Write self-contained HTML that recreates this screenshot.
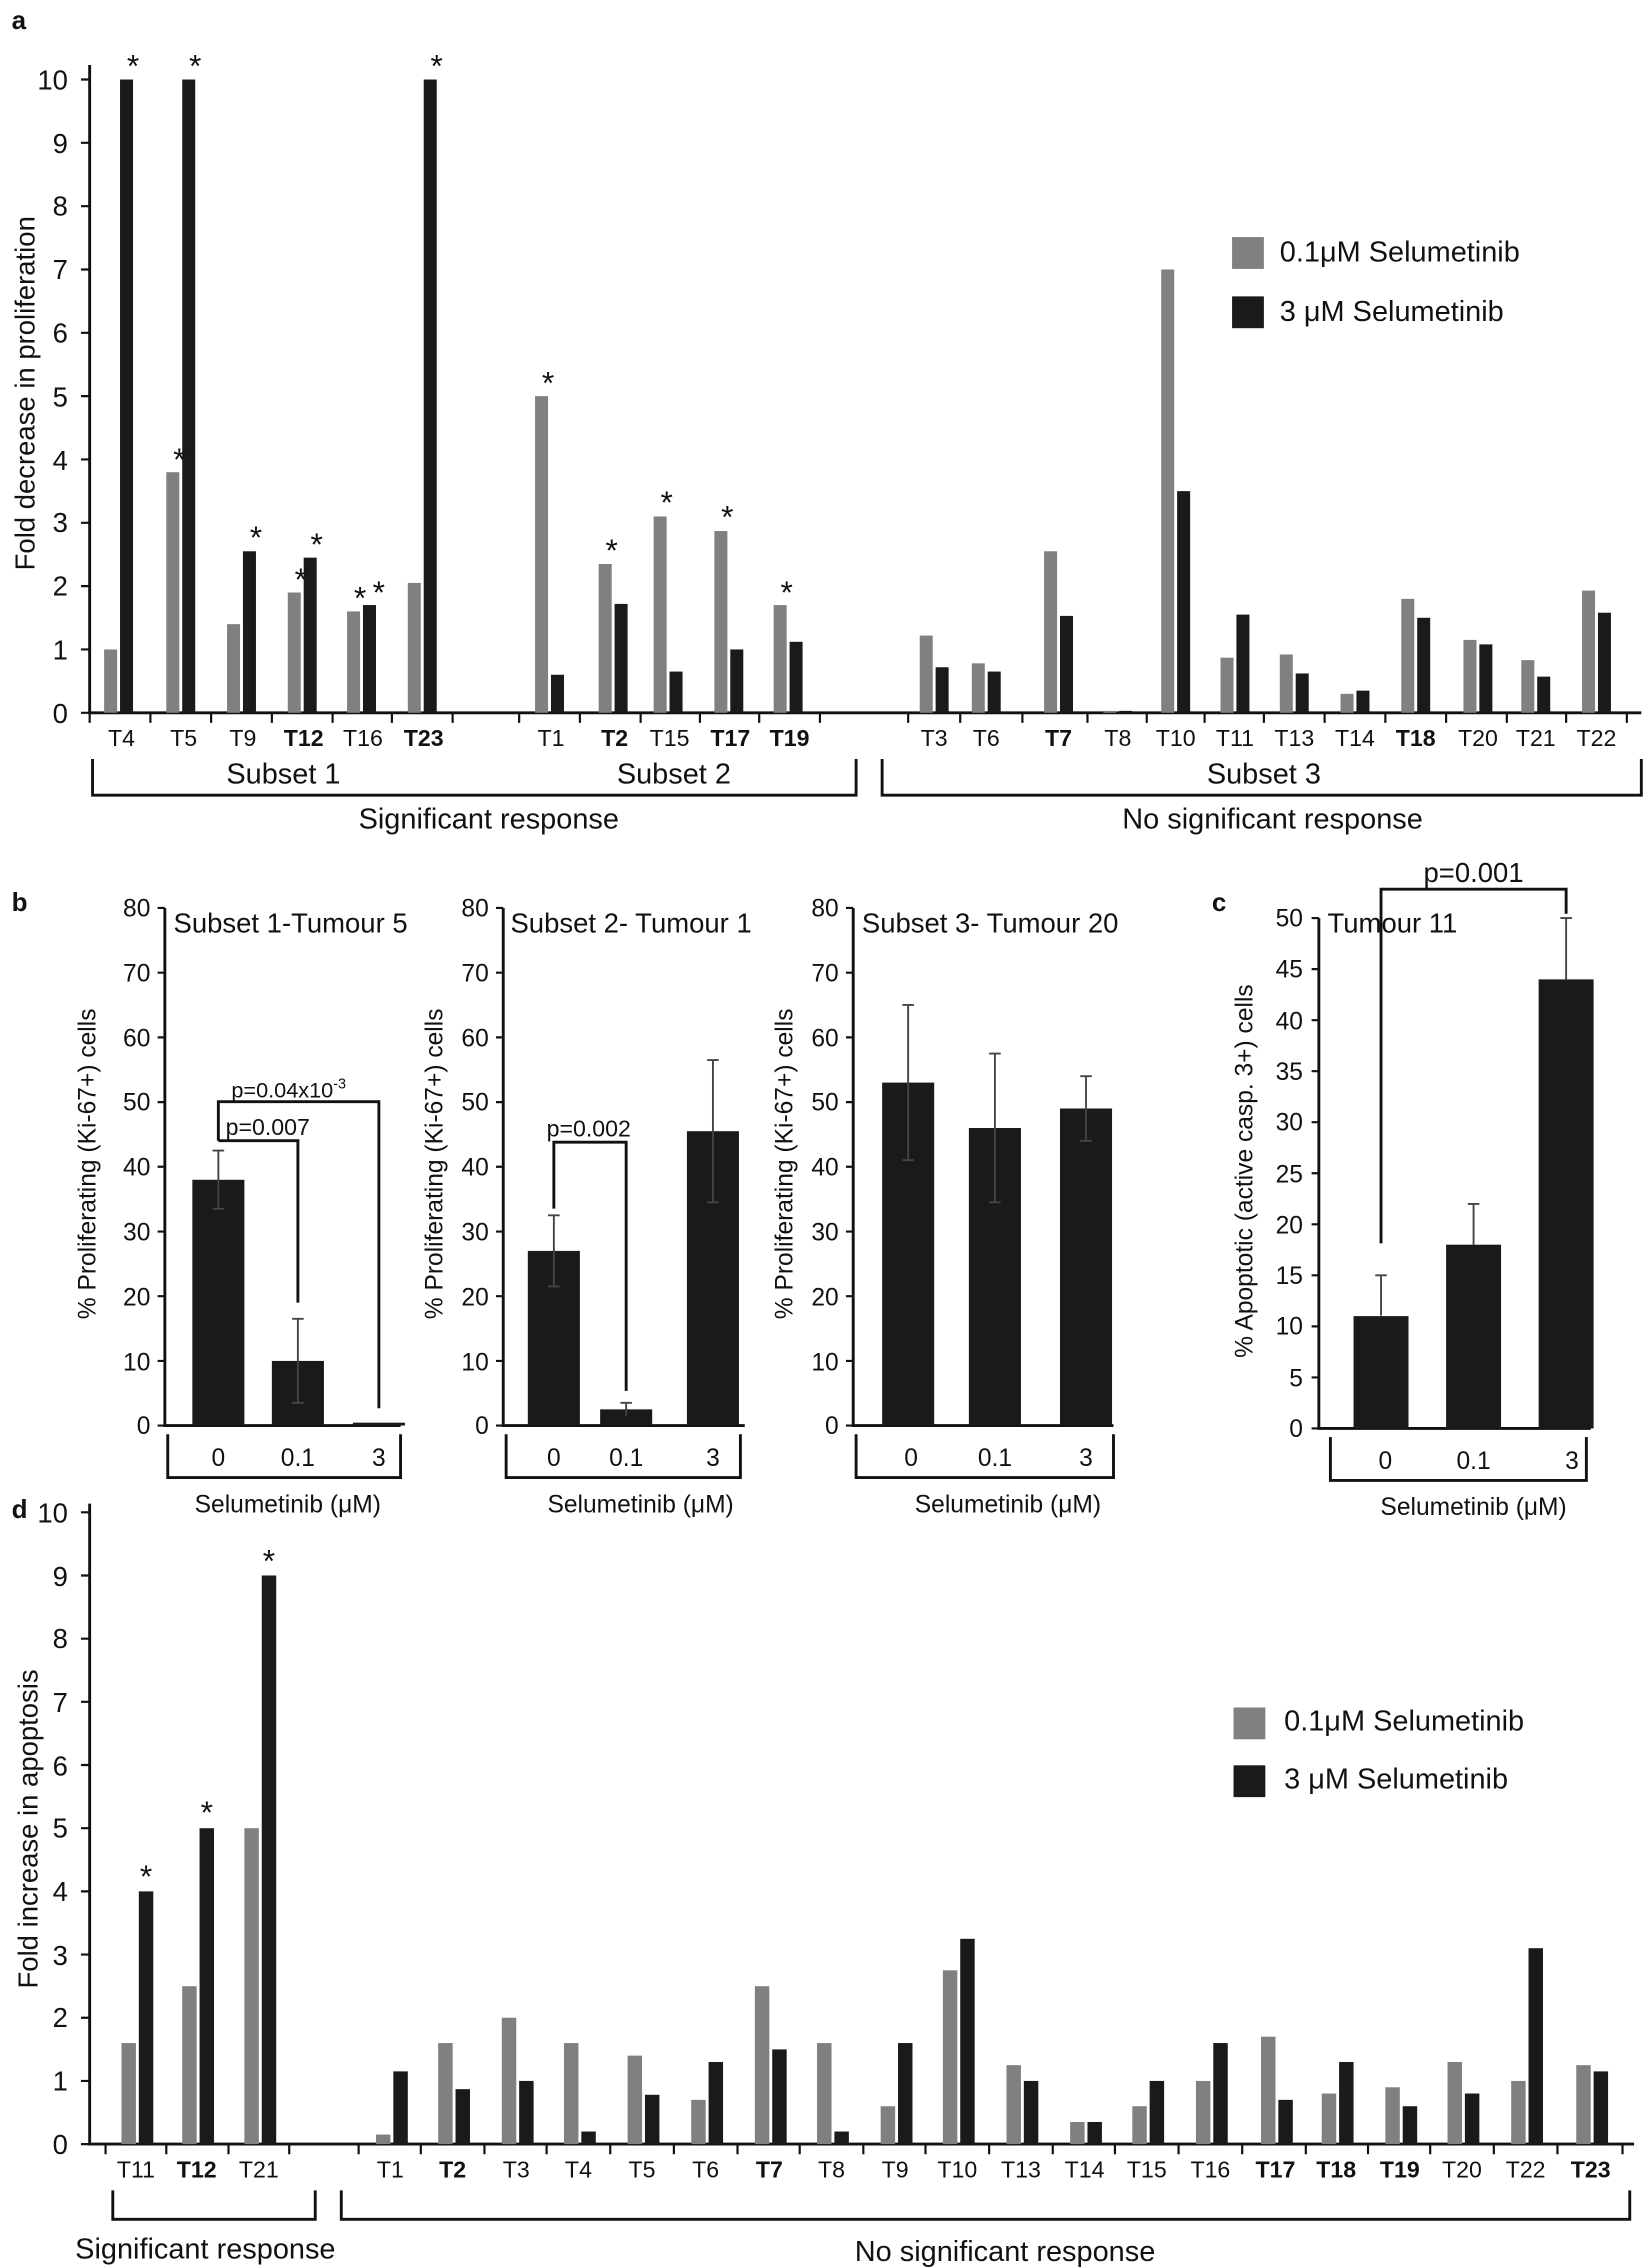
<!DOCTYPE html>
<html><head><meta charset="utf-8"><style>
html,body{margin:0;padding:0;background:#fff;}
svg{display:block;}
text{font-family:"Liberation Sans",Arial,sans-serif;fill:#111;}
.g{fill:#808080}.k{fill:#1a1a1a}
.ax{stroke:#111;stroke-width:2;fill:none}
.th{stroke:#111;stroke-width:1.5;fill:none}
.eb{stroke:#444;stroke-width:1.3;fill:none}
.tk{font-size:19px}
.xl{font-size:16px;text-anchor:middle}
.b{font-weight:bold}
.st{font-size:22px;text-anchor:middle}
</style></head><body>
<svg width="1650" height="2267" viewBox="0 0 1141 1568" preserveAspectRatio="none" xmlns="http://www.w3.org/2000/svg">
<!-- PANEL A -->
<text x="8" y="20" font-size="18" font-weight="bold">a</text>
<text transform="translate(24,272) rotate(-90)" font-size="19" text-anchor="middle">Fold decrease in proliferation</text>
<g text-anchor="end" class="tk">
<text x="47" y="500">0</text><text x="47" y="456">1</text><text x="47" y="412">2</text><text x="47" y="368">3</text><text x="47" y="325">4</text><text x="47" y="281">5</text><text x="47" y="237">6</text><text x="47" y="193">7</text><text x="47" y="149">8</text><text x="47" y="106">9</text><text x="47" y="62">10</text>
</g>
<path class="ax" d="M62 45V493H1135"/>
<path class="th" d="M56 493H62M56 449.2H62M56 405.4H62M56 361.6H62M56 317.8H62M56 274H62M56 230.2H62M56 186.4H62M56 142.6H62M56 98.8H62M56 55H62"/>
<path class="th" d="M62 493V500M104 493V500M146 493V500M188 493V500M230 493V500M271 493V500M313 493V500M359 493V500M401 493V500M443 493V500M484 493V500M525 493V500M567 493V500M628 493V500M664 493V500M707 493V500M752 493V500M793 493V500M833 493V500M874 493V500M916 493V500M958 493V500M1000 493V500M1042 493V500M1083 493V500M1125 493V500"/>
<g>
<rect class="g" x="72" y="449.2" width="9" height="43.8"/><rect class="k" x="83" y="55" width="9" height="438"/>
<rect class="g" x="115" y="326.6" width="9" height="166.4"/><rect class="k" x="126" y="55" width="9" height="438"/>
<rect class="g" x="157" y="431.7" width="9" height="61.3"/><rect class="k" x="168" y="381.3" width="9" height="111.7"/>
<rect class="g" x="199" y="409.8" width="9" height="83.2"/><rect class="k" x="210" y="385.7" width="9" height="107.3"/>
<rect class="g" x="240" y="422.9" width="9" height="70.1"/><rect class="k" x="251" y="418.5" width="9" height="74.5"/>
<rect class="g" x="282" y="403.2" width="9" height="89.8"/><rect class="k" x="293" y="55" width="9" height="438"/>
<rect class="g" x="370" y="274" width="9" height="219"/><rect class="k" x="381" y="466.7" width="9" height="26.3"/>
<rect class="g" x="414" y="390.1" width="9" height="102.9"/><rect class="k" x="425" y="417.7" width="9" height="75.3"/>
<rect class="g" x="452" y="357.2" width="9" height="135.8"/><rect class="k" x="463" y="464.5" width="9" height="28.5"/>
<rect class="g" x="494" y="367.3" width="9" height="125.7"/><rect class="k" x="505" y="449.2" width="9" height="43.8"/>
<rect class="g" x="535" y="418.5" width="9" height="74.5"/><rect class="k" x="546" y="443.9" width="9" height="49.1"/>
<rect class="g" x="636" y="439.6" width="9" height="53.4"/><rect class="k" x="647" y="461.5" width="9" height="31.5"/>
<rect class="g" x="672" y="458.8" width="9" height="34.2"/><rect class="k" x="683" y="464.5" width="9" height="28.5"/>
<rect class="g" x="722" y="381.3" width="9" height="111.7"/><rect class="k" x="733" y="426" width="9" height="67"/>
<rect class="g" x="763" y="491.7" width="9" height="1.3"/><rect class="k" x="774" y="491.7" width="9" height="1.3"/>
<rect class="g" x="803" y="186.4" width="9" height="306.6"/><rect class="k" x="814" y="339.7" width="9" height="153.3"/>
<rect class="g" x="844" y="454.9" width="9" height="38.1"/><rect class="k" x="855" y="425.1" width="9" height="67.9"/>
<rect class="g" x="885" y="452.7" width="9" height="40.3"/><rect class="k" x="896" y="465.8" width="9" height="27.2"/>
<rect class="g" x="927" y="479.9" width="9" height="13.1"/><rect class="k" x="938" y="477.7" width="9" height="15.3"/>
<rect class="g" x="969" y="414.2" width="9" height="78.8"/><rect class="k" x="980" y="427.3" width="9" height="65.7"/>
<rect class="g" x="1012" y="442.6" width="9" height="50.4"/><rect class="k" x="1023" y="445.7" width="9" height="47.3"/>
<rect class="g" x="1052" y="456.6" width="9" height="36.4"/><rect class="k" x="1063" y="468" width="9" height="25"/>
<rect class="g" x="1094" y="408.5" width="9" height="84.5"/><rect class="k" x="1105" y="423.8" width="9" height="69.2"/>
</g>
<g class="st">
<text x="92" y="53">*</text><text x="135" y="53">*</text><text x="302" y="53">*</text>
<text x="124" y="325">*</text><text x="177" y="379">*</text><text x="208" y="408">*</text><text x="219" y="384">*</text>
<text x="249" y="421">*</text><text x="262" y="417">*</text>
<text x="379" y="272">*</text><text x="423" y="388">*</text><text x="461" y="355">*</text><text x="503" y="365">*</text><text x="544" y="417">*</text>
</g>
<g class="xl">
<text x="84" y="516">T4</text><text x="127" y="516">T5</text><text x="168" y="516">T9</text><text x="210" y="516" class="b">T12</text><text x="251" y="516">T16</text><text x="293" y="516" class="b">T23</text>
<text x="381" y="516">T1</text><text x="425" y="516" class="b">T2</text><text x="463" y="516">T15</text><text x="505" y="516" class="b">T17</text><text x="546" y="516" class="b">T19</text>
<text x="646" y="516">T3</text><text x="682" y="516">T6</text><text x="732" y="516" class="b">T7</text><text x="773" y="516">T8</text><text x="813" y="516">T10</text><text x="854" y="516">T11</text><text x="895" y="516">T13</text><text x="937" y="516">T14</text><text x="979" y="516" class="b">T18</text><text x="1022" y="516">T20</text><text x="1062" y="516">T21</text><text x="1104" y="516">T22</text>
</g>
<g font-size="20" text-anchor="middle">
<text x="196" y="542">Subset 1</text><text x="466" y="542">Subset 2</text><text x="874" y="542">Subset 3</text>
<text x="338" y="573">Significant response</text><text x="880" y="573">No significant response</text>
</g>
<path class="ax" d="M64 525V550H592V525M610 525V550H1135V525"/>
<rect class="g" x="852" y="164" width="22" height="22"/><rect class="k" x="852" y="205" width="22" height="22"/>
<text x="885" y="181" font-size="20">0.1μM Selumetinib</text><text x="885" y="222" font-size="20">3 μM Selumetinib</text>

<!-- PANEL B -->
<text x="8" y="630" font-size="18" font-weight="bold">b</text>
<g font-size="17" text-anchor="middle">
<text transform="translate(66,805) rotate(-90)">% Proliferating (Ki-67+) cells</text>
<text transform="translate(306,805) rotate(-90)">% Proliferating (Ki-67+) cells</text>
<text transform="translate(548,805) rotate(-90)">% Proliferating (Ki-67+) cells</text>
</g>
<g font-size="17" text-anchor="end">
<text x="104" y="992">0</text><text x="104" y="948">10</text><text x="104" y="903">20</text><text x="104" y="858">30</text><text x="104" y="813">40</text><text x="104" y="768">50</text><text x="104" y="724">60</text><text x="104" y="679">70</text><text x="104" y="634">80</text>
<text x="338" y="992">0</text><text x="338" y="948">10</text><text x="338" y="903">20</text><text x="338" y="858">30</text><text x="338" y="813">40</text><text x="338" y="768">50</text><text x="338" y="724">60</text><text x="338" y="679">70</text><text x="338" y="634">80</text>
<text x="580" y="992">0</text><text x="580" y="948">10</text><text x="580" y="903">20</text><text x="580" y="858">30</text><text x="580" y="813">40</text><text x="580" y="768">50</text><text x="580" y="724">60</text><text x="580" y="679">70</text><text x="580" y="634">80</text>
</g>
<path class="ax" d="M114 628V986H277M348 628V986H515M590 628V986H770"/>
<path class="th" d="M109 986H114M109 941.3H114M109 896.5H114M109 851.8H114M109 807H114M109 762.3H114M109 717.5H114M109 672.8H114M109 628H114
M343 986H348M343 941.3H348M343 896.5H348M343 851.8H348M343 807H348M343 762.3H348M343 717.5H348M343 672.8H348M343 628H348
M585 986H590M585 941.3H590M585 896.5H590M585 851.8H590M585 807H590M585 762.3H590M585 717.5H590M585 672.8H590M585 628H590"/>
<!-- b1 -->
<rect class="k" x="133" y="816" width="36" height="170"/><rect class="k" x="188" y="941.3" width="36" height="44.7"/><rect class="k" x="244" y="984" width="36" height="2"/>
<path class="eb" d="M151 795.8V836.1M147 795.8H155M147 836.1H155M206 912.2V970.3M202 912.2H210M202 970.3H210"/>
<path class="ax" d="M151 789V762H262V974M151 789H206V901"/>
<text x="160" y="759" font-size="15">p=0.04x10<tspan font-size="10" dy="-6">-3</tspan></text>
<text x="156" y="785" font-size="16">p=0.007</text>
<text x="120" y="645" font-size="19">Subset 1-Tumour 5</text>
<!-- b2 -->
<rect class="k" x="365" y="865.2" width="36" height="120.8"/><rect class="k" x="415" y="974.8" width="36" height="11.2"/><rect class="k" x="475" y="782.4" width="36" height="203.6"/>
<path class="eb" d="M383 840.6V889.8M379 840.6H387M379 889.8H387M433 970.3V979.3M429 970.3H437M493 733.2V831.6M489 733.2H497M489 831.6H497"/>
<path class="ax" d="M383 836V790H433V962"/>
<text x="378" y="786" font-size="16">p=0.002</text>
<text x="353" y="645" font-size="19">Subset 2- Tumour 1</text>
<!-- b3 -->
<rect class="k" x="610" y="748.8" width="36" height="237.2"/><rect class="k" x="670" y="780.2" width="36" height="205.8"/><rect class="k" x="733" y="766.7" width="36" height="219.3"/>
<path class="eb" d="M628 695.1V802.5M624 695.1H632M624 802.5H632M688 728.7V831.6M684 728.7H692M684 831.6H692M751 744.4V789.1M747 744.4H755M747 789.1H755"/>
<text x="596" y="645" font-size="19">Subset 3- Tumour 20</text>
<g font-size="17" text-anchor="middle">
<text x="151" y="1014">0</text><text x="206" y="1014">0.1</text><text x="262" y="1014">3</text>
<text x="383" y="1014">0</text><text x="433" y="1014">0.1</text><text x="493" y="1014">3</text>
<text x="630" y="1014">0</text><text x="688" y="1014">0.1</text><text x="751" y="1014">3</text>
<text x="199" y="1046">Selumetinib (μM)</text><text x="443" y="1046">Selumetinib (μM)</text><text x="697" y="1046">Selumetinib (μM)</text>
</g>
<path class="ax" d="M116 992V1022H277V992M350 992V1022H512V992M592 992V1022H770V992"/>

<!-- PANEL C -->
<text x="838" y="630" font-size="18" font-weight="bold">c</text>
<text transform="translate(866,810) rotate(-90)" font-size="17" text-anchor="middle">% Apoptotic (active casp. 3+) cells</text>
<g font-size="17" text-anchor="end">
<text x="901" y="994">0</text><text x="901" y="959">5</text><text x="901" y="923">10</text><text x="901" y="888">15</text><text x="901" y="853">20</text><text x="901" y="818">25</text><text x="901" y="782">30</text><text x="901" y="747">35</text><text x="901" y="712">40</text><text x="901" y="676">45</text><text x="901" y="641">50</text>
</g>
<path class="ax" d="M912 635V988H1100"/>
<path class="th" d="M907 988H912M907 952.7H912M907 917.4H912M907 882.1H912M907 846.8H912M907 811.5H912M907 776.2H912M907 740.9H912M907 705.6H912M907 670.3H912M907 635H912"/>
<rect class="k" x="936" y="910.3" width="38" height="77.7"/><rect class="k" x="1000" y="860.9" width="38" height="127.1"/><rect class="k" x="1064" y="677.4" width="38" height="310.6"/>
<path class="eb" d="M955 882.1V910M951 882.1H959M1019 832.7V861M1015 832.7H1023M1083 635V678M1079 635H1087"/>
<path class="ax" d="M955 860V615H1083V632"/>
<text x="1019" y="610" font-size="19" text-anchor="middle">p=0.001</text>
<text x="918" y="645" font-size="19">Tumour 11</text>
<g font-size="17" text-anchor="middle"><text x="958" y="1016">0</text><text x="1019" y="1016">0.1</text><text x="1087" y="1016">3</text><text x="1019" y="1048">Selumetinib (μM)</text></g>
<path class="ax" d="M920 994V1024H1097V994"/>

<!-- PANEL D -->
<text x="8" y="1050" font-size="18" font-weight="bold">d</text>
<text transform="translate(26,1265) rotate(-90)" font-size="19" text-anchor="middle">Fold increase in apoptosis</text>
<g text-anchor="end" class="tk">
<text x="47" y="1490">0</text><text x="47" y="1446">1</text><text x="47" y="1402">2</text><text x="47" y="1359">3</text><text x="47" y="1315">4</text><text x="47" y="1271">5</text><text x="47" y="1228">6</text><text x="47" y="1184">7</text><text x="47" y="1140">8</text><text x="47" y="1097">9</text><text x="47" y="1053">10</text>
</g>
<path class="ax" d="M62 1040V1483H1130"/>
<path class="th" d="M56 1483H62M56 1439.3H62M56 1395.6H62M56 1351.9H62M56 1308.2H62M56 1264.5H62M56 1220.8H62M56 1177.1H62M56 1133.4H62M56 1089.7H62M56 1046H62"/>
<path class="th" d="M73 1483V1490M115 1483V1490M158 1483V1490M200 1483V1490M248 1483V1490M291 1483V1490M335 1483V1490M378 1483V1490M422 1483V1490M466 1483V1490M510 1483V1490M553 1483V1490M597 1483V1490M640 1483V1490M684 1483V1490M728 1483V1490M771 1483V1490M815 1483V1490M859 1483V1490M903 1483V1490M946 1483V1490M989 1483V1490M1033 1483V1490M1077 1483V1490M1122 1483V1490"/>
<g>
<rect class="g" x="84" y="1413.1" width="10" height="69.9"/><rect class="k" x="96" y="1308.2" width="10" height="174.8"/>
<rect class="g" x="126" y="1373.8" width="10" height="109.2"/><rect class="k" x="138" y="1264.5" width="10" height="218.5"/>
<rect class="g" x="169" y="1264.5" width="10" height="218.5"/><rect class="k" x="181" y="1089.7" width="10" height="393.3"/>
<rect class="g" x="260" y="1476.4" width="10" height="6.6"/><rect class="k" x="272" y="1432.7" width="10" height="50.3"/>
<rect class="g" x="303" y="1413.1" width="10" height="69.9"/><rect class="k" x="315" y="1445" width="10" height="38"/>
<rect class="g" x="347" y="1395.6" width="10" height="87.4"/><rect class="k" x="359" y="1439.3" width="10" height="43.7"/>
<rect class="g" x="390" y="1413.1" width="10" height="69.9"/><rect class="k" x="402" y="1474.3" width="10" height="8.7"/>
<rect class="g" x="434" y="1421.8" width="10" height="61.2"/><rect class="k" x="446" y="1448.9" width="10" height="34.1"/>
<rect class="g" x="478" y="1452.4" width="10" height="30.6"/><rect class="k" x="490" y="1426.2" width="10" height="56.8"/>
<rect class="g" x="522" y="1373.8" width="10" height="109.2"/><rect class="k" x="534" y="1417.5" width="10" height="65.5"/>
<rect class="g" x="565" y="1413.1" width="10" height="69.9"/><rect class="k" x="577" y="1474.3" width="10" height="8.7"/>
<rect class="g" x="609" y="1456.8" width="10" height="26.2"/><rect class="k" x="621" y="1413.1" width="10" height="69.9"/>
<rect class="g" x="652" y="1362.8" width="10" height="120.2"/><rect class="k" x="664" y="1341" width="10" height="142"/>
<rect class="g" x="696" y="1428.4" width="10" height="54.6"/><rect class="k" x="708" y="1439.3" width="10" height="43.7"/>
<rect class="g" x="740" y="1467.7" width="10" height="15.3"/><rect class="k" x="752" y="1467.7" width="10" height="15.3"/>
<rect class="g" x="783" y="1456.8" width="10" height="26.2"/><rect class="k" x="795" y="1439.3" width="10" height="43.7"/>
<rect class="g" x="827" y="1439.3" width="10" height="43.7"/><rect class="k" x="839" y="1413.1" width="10" height="69.9"/>
<rect class="g" x="872" y="1408.7" width="10" height="74.3"/><rect class="k" x="884" y="1452.4" width="10" height="30.6"/>
<rect class="g" x="914" y="1448" width="10" height="35"/><rect class="k" x="926" y="1426.2" width="10" height="56.8"/>
<rect class="g" x="958" y="1443.7" width="10" height="39.3"/><rect class="k" x="970" y="1456.8" width="10" height="26.2"/>
<rect class="g" x="1001" y="1426.2" width="10" height="56.8"/><rect class="k" x="1013" y="1448" width="10" height="35"/>
<rect class="g" x="1045" y="1439.3" width="10" height="43.7"/><rect class="k" x="1057" y="1347.5" width="10" height="135.5"/>
<rect class="g" x="1090" y="1428.4" width="10" height="54.6"/><rect class="k" x="1102" y="1432.7" width="10" height="50.3"/>
</g>
<g class="st"><text x="101" y="1305">*</text><text x="143" y="1261">*</text><text x="186" y="1087">*</text></g>
<g class="xl">
<text x="94" y="1506">T11</text><text x="136" y="1506" class="b">T12</text><text x="179" y="1506">T21</text>
<text x="270" y="1506">T1</text><text x="313" y="1506" class="b">T2</text><text x="357" y="1506">T3</text><text x="400" y="1506">T4</text><text x="444" y="1506">T5</text><text x="488" y="1506">T6</text><text x="532" y="1506" class="b">T7</text><text x="575" y="1506">T8</text><text x="619" y="1506">T9</text><text x="662" y="1506">T10</text><text x="706" y="1506">T13</text><text x="750" y="1506">T14</text><text x="793" y="1506">T15</text><text x="837" y="1506">T16</text><text x="882" y="1506" class="b">T17</text><text x="924" y="1506" class="b">T18</text><text x="968" y="1506" class="b">T19</text><text x="1011" y="1506">T20</text><text x="1055" y="1506">T22</text><text x="1100" y="1506" class="b">T23</text>
</g>
<path class="ax" d="M78 1515V1535H218V1515M236 1515V1535H1127V1515"/>
<g font-size="20" text-anchor="middle"><text x="142" y="1562">Significant response</text><text x="695" y="1564">No significant response</text></g>
<rect class="g" x="853" y="1181" width="22" height="22"/><rect class="k" x="853" y="1221" width="22" height="22"/>
<text x="888" y="1197" font-size="20">0.1μM Selumetinib</text><text x="888" y="1237" font-size="20">3 μM Selumetinib</text>
</svg>
</body></html>
